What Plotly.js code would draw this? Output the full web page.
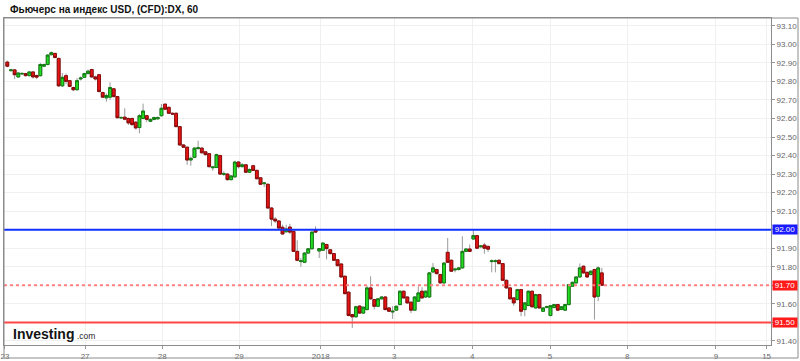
<!DOCTYPE html>
<html>
<head>
<meta charset="utf-8">
<script src="https://cdn.plot.ly/plotly-3.0.1.min.js"></script>
<style>
html,body{margin:0;padding:0;background:#fff;}
#chart{width:800px;height:361px;}
</style>
</head>
<body>
<div id="chart"></div>
<script>
// ---- data (hourly candles, index order) ----
const openP = [
92.904,92.858,92.862,92.824,92.840,92.842,92.831,92.851,92.832,92.831,
92.882,92.891,92.944,92.951,92.924,92.776,92.831,92.804,92.767,92.755,
92.813,92.822,92.842,92.864,92.824,92.836,92.740,92.711,92.715,92.760,
92.718,92.603,92.607,92.600,92.600,92.580,92.551,92.600,92.615,92.585,
92.595,92.598,92.615,92.677,92.660,92.628,92.628,92.556,92.457,92.445,
92.376,92.390,92.438,92.440,92.420,92.410,92.334,92.336,92.400,92.298,
92.300,92.270,92.285,92.365,92.340,92.350,92.310,92.345,92.320,92.280,
92.248,92.245,92.117,92.057,92.047,92.013,91.989,92.014,91.991,91.883,
91.828,91.824,91.874,91.897,91.998,91.885,91.889,91.920,91.892,91.871,
91.838,91.815,91.749,91.663,91.542,91.530,91.588,91.550,91.569,91.686,
91.623,91.587,91.627,91.637,91.578,91.556,91.566,91.596,91.668,91.637,
91.609,91.566,91.614,91.668,91.637,91.637,91.772,91.785,91.758,91.713,
91.878,91.835,91.783,91.785,91.794,91.883,91.896,91.950,91.968,91.908,
91.917,91.910,91.828,91.828,91.835,91.817,91.727,91.686,91.632,91.623,
91.677,91.569,91.591,91.668,91.578,91.650,91.560,91.581,91.537,91.580,
91.596,91.570,91.566,91.596,91.695,91.713,91.745,91.803,91.770,91.758,
91.785,91.641,91.767];
const highP = [
92.912,92.868,92.866,92.851,92.848,92.846,92.856,92.854,92.836,92.900,
92.896,92.946,92.962,92.954,92.928,92.845,92.842,92.808,92.772,92.818,
92.827,92.847,92.864,92.868,92.831,92.840,92.744,92.735,92.795,92.765,
92.722,92.612,92.655,92.605,92.605,92.585,92.625,92.680,92.620,92.600,
92.610,92.612,92.678,92.682,92.665,92.633,92.632,92.560,92.462,92.449,
92.395,92.445,92.480,92.445,92.425,92.414,92.345,92.410,92.405,92.315,
92.304,92.294,92.372,92.370,92.360,92.354,92.330,92.350,92.324,92.284,
92.256,92.249,92.121,92.068,92.052,92.027,92.027,92.032,91.995,91.943,
91.848,91.878,91.900,91.991,92.018,91.900,91.932,91.924,91.896,91.875,
91.842,91.819,91.753,91.667,91.546,91.590,91.592,91.586,91.698,91.749,
91.627,91.631,91.641,91.641,91.582,91.588,91.590,91.672,91.672,91.641,
91.613,91.641,91.695,91.690,91.672,91.771,91.820,91.789,91.762,91.824,
91.955,91.839,91.795,91.798,91.964,91.900,91.920,91.997,91.972,91.918,
91.928,91.914,91.840,91.840,91.839,91.821,91.731,91.690,91.636,91.681,
91.681,91.609,91.672,91.672,91.654,91.654,91.582,91.590,91.594,91.600,
91.600,91.588,91.600,91.708,91.720,91.749,91.818,91.807,91.774,91.780,
91.789,91.803,91.794];
const lowP = [
92.876,92.852,92.812,92.819,92.835,92.827,92.827,92.815,92.812,92.826,
92.877,92.887,92.940,92.924,92.771,92.771,92.785,92.769,92.747,92.751,
92.805,92.819,92.839,92.820,92.805,92.742,92.710,92.690,92.700,92.714,
92.600,92.598,92.590,92.565,92.560,92.540,92.520,92.595,92.580,92.580,
92.590,92.594,92.610,92.645,92.625,92.620,92.553,92.454,92.441,92.350,
92.345,92.386,92.430,92.411,92.400,92.336,92.318,92.332,92.296,92.290,
92.265,92.266,92.281,92.330,92.336,92.306,92.305,92.316,92.271,92.241,
92.230,92.113,92.020,92.036,92.005,91.973,91.982,91.976,91.880,91.830,
91.800,91.820,91.870,91.893,91.983,91.847,91.885,91.840,91.867,91.831,
91.802,91.741,91.651,91.533,91.470,91.526,91.546,91.546,91.565,91.623,
91.570,91.583,91.623,91.565,91.556,91.519,91.562,91.592,91.628,91.601,
91.550,91.562,91.610,91.628,91.633,91.633,91.768,91.759,91.709,91.709,
91.820,91.772,91.770,91.780,91.790,91.879,91.879,91.946,91.896,91.900,
91.870,91.880,91.770,91.770,91.813,91.723,91.682,91.623,91.590,91.619,
91.533,91.533,91.587,91.580,91.574,91.574,91.556,91.575,91.533,91.576,
91.562,91.566,91.562,91.592,91.691,91.709,91.741,91.763,91.741,91.754,
91.515,91.614,91.696];
const closeP = [
92.882,92.862,92.836,92.845,92.843,92.831,92.851,92.824,92.823,92.891,
92.891,92.942,92.955,92.929,92.776,92.822,92.800,92.773,92.755,92.804,
92.818,92.842,92.855,92.824,92.813,92.745,92.715,92.724,92.767,92.718,
92.604,92.605,92.596,92.576,92.567,92.549,92.615,92.640,92.595,92.595,
92.605,92.605,92.655,92.650,92.628,92.624,92.556,92.457,92.445,92.376,
92.385,92.440,92.442,92.415,92.405,92.340,92.338,92.405,92.300,92.302,
92.270,92.290,92.365,92.340,92.350,92.310,92.325,92.320,92.275,92.245,
92.252,92.117,92.057,92.047,92.009,91.977,92.004,91.987,91.883,91.835,
91.832,91.874,91.897,91.987,91.987,91.898,91.928,91.898,91.871,91.835,
91.806,91.745,91.655,91.537,91.530,91.584,91.550,91.582,91.686,91.627,
91.587,91.627,91.637,91.569,91.560,91.560,91.587,91.668,91.632,91.605,
91.566,91.637,91.659,91.632,91.668,91.767,91.794,91.763,91.713,91.820,
91.824,91.776,91.787,91.794,91.883,91.896,91.883,91.968,91.900,91.912,
91.900,91.895,91.832,91.832,91.817,91.727,91.686,91.627,91.605,91.677,
91.560,91.605,91.668,91.584,91.650,91.578,91.578,91.585,91.590,91.596,
91.566,91.584,91.596,91.704,91.716,91.745,91.794,91.767,91.745,91.776,
91.637,91.794,91.700];

const tickLabels = ['23','27','28','29','2018','3','4','5','8','9','15'];
const tickIdx    = [-0.65, 21.2, 42.2, 63.2, 85.4, 105.4, 126.7, 147.9, 168.9, 193.1, 206.9];

const yTickVals   = [91.4, 91.5, 91.6, 91.7, 91.8, 91.9, 92.0, 92.1, 92.2, 92.3, 92.4, 92.5, 92.6, 92.7, 92.8, 92.9, 93.0, 93.1];
const yTickLabels = ['91.40', '', '91.60', '', '91.80', '91.90', '', '92.10', '92.20', '92.30', '92.40', '92.50', '92.60', '92.70', '92.80', '92.90', '93.00', '93.10'];

const levelValues = [92.00, 91.70, 91.50];
const levelLabels = ['92.00', '91.70', '91.50'];

const titleText = 'Фьючерс на индекс USD, (CFD):DX, 60';

// ---- layout geometry ----
const W = 800, H = 361;
const M = {l: 4, r: 29, t: 18, b: 16};
const PW = W - M.l - M.r, PH = H - M.t - M.b;
const px2x = p => (p - M.l) / PW;
const py2y = p => (H - M.b - p) / PH;

const xIdx = openP.map((_, i) => i);
const bodyHigh = openP.map((o, i) => Math.max(o, closeP[i]));
const bodyLow = openP.map((o, i) => Math.min(o, closeP[i]));

const FONT = 'Arial, "Liberation Sans", sans-serif';

const wickTrace = {
  type: 'candlestick', x: xIdx,
  open: openP, high: highP, low: lowP, close: closeP,
  increasing: {line: {color: '#9a9a9a', width: 1}, fillcolor: '#9a9a9a'},
  decreasing: {line: {color: '#9a9a9a', width: 1}, fillcolor: '#9a9a9a'},
  whiskerwidth: 0, hoverinfo: 'skip', showlegend: false
};
const bodyTrace = {
  type: 'candlestick', x: xIdx,
  open: openP, high: bodyHigh, low: bodyLow, close: closeP,
  increasing: {line: {color: '#127a12', width: 1}, fillcolor: '#22dd22'},
  decreasing: {line: {color: '#8a0a0a', width: 1}, fillcolor: '#e81414'},
  whiskerwidth: 0, hoverinfo: 'skip', showlegend: false
};

const levelColors = ['#1030ff', '#ff8080', '#ff4646'];
const levelBoxColors = ['#1a1aff', '#ff1a1a', '#ff1a1a'];
const levelDash = ['solid', 'dot', 'solid'];

const shapes = levelValues.map((v, i) => ({
  type: 'line', xref: 'paper', x0: 0, x1: 1, yref: 'y', y0: v, y1: v,
  line: {color: levelColors[i], width: 2, dash: levelDash[i]}, layer: 'above'
}));
// outer frame of the chart box
shapes.push({
  type: 'rect', xref: 'paper', yref: 'paper',
  x0: 0, x1: px2x(798), y0: py2y(358), y1: 1,
  line: {color: '#8c8c8c', width: 1}, fillcolor: 'rgba(0,0,0,0)', layer: 'above'
});

const annotations = levelValues.map((v, i) => ({
  xref: 'paper', x: px2x(772), xanchor: 'left', yref: 'y', y: v, yanchor: 'middle',
  text: levelLabels[i], showarrow: false, bgcolor: levelBoxColors[i],
  font: {family: FONT, size: 8, color: '#ffffff'},
  width: 24, height: 9, borderpad: 0, align: 'center'
}));
// logo: "Investing" + ".com"
annotations.push({
  xref: 'paper', yref: 'paper', x: px2x(12), y: py2y(334), xanchor: 'left', yanchor: 'middle',
  text: '<b>Investing</b>', borderpad: 0,
  showarrow: false, font: {family: FONT, size: 14, color: '#141414'}
});
annotations.push({
  xref: 'paper', yref: 'paper', x: px2x(76), y: py2y(336), xanchor: 'left', yanchor: 'middle',
  text: '.com', borderpad: 0,
  showarrow: false, font: {family: FONT, size: 8.5, color: '#262626'}
});

const layout = {
  width: W, height: H,
  margin: M,
  paper_bgcolor: '#ffffff', plot_bgcolor: '#ffffff',
  showlegend: false,
  boxgap: 0.12, boxgroupgap: 0.12,
  title: {
    text: '<b>' + titleText + '</b>',
    xref: 'container', yref: 'container', x: 10 / W, xanchor: 'left',
    y: 1 - 9 / H, yanchor: 'middle',
    font: {family: FONT, size: 10, color: '#111111'}
  },
  xaxis: {
    range: [-0.9, 208.1], autorange: false,
    rangeslider: {visible: false},
    tickmode: 'array', tickvals: tickIdx, ticktext: tickLabels,
    ticks: 'outside', ticklen: 3, tickcolor: '#999999',
    tickfont: {family: FONT, size: 8, color: '#666666'},
    showgrid: true, gridcolor: '#f0f0f0', gridwidth: 1,
    showline: true, linecolor: '#8c8c8c', linewidth: 1, mirror: true,
    zeroline: false, fixedrange: true
  },
  yaxis: {
    side: 'right', range: [91.378, 93.142], autorange: false,
    tickmode: 'array', tickvals: yTickVals, ticktext: yTickLabels,
    ticks: 'outside', ticklen: 3, tickcolor: '#999999',
    tickfont: {family: FONT, size: 8, color: '#666666'},
    showgrid: true, gridcolor: '#f0f0f0', gridwidth: 1,
    showline: true, linecolor: '#8c8c8c', linewidth: 1, mirror: true,
    zeroline: false, fixedrange: true
  },
  shapes: shapes,
  annotations: annotations
};

Plotly.newPlot('chart', [wickTrace, bodyTrace], layout, {displayModeBar: false, staticPlot: true});
</script>
</body>
</html>
